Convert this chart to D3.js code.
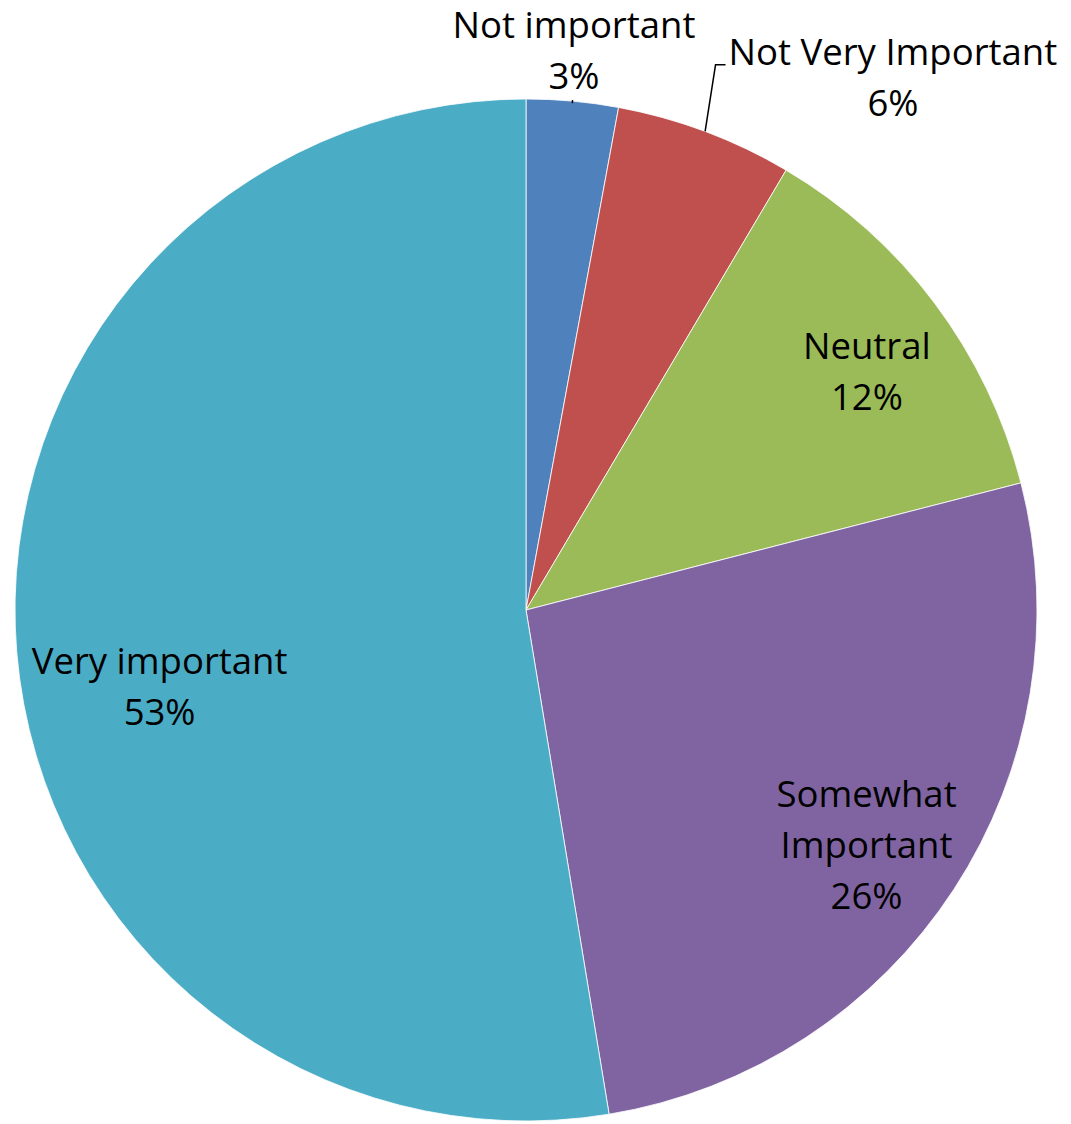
<!DOCTYPE html>
<html><head><meta charset="utf-8">
<script src="https://cdn.jsdelivr.net/npm/d3@7"></script>
<style>html,body{margin:0;padding:0;background:#fff;}</style>
</head><body>
<svg id="chart" width="1071" height="1124"></svg>
<script>
const categories = ["Not important", "Not Very Important", "Neutral", "Somewhat Important", "Very important"];
const values = [2.9, 5.6, 12.5, 26.4, 52.6];
const percentLabels = ["3%", "6%", "12%", "26%", "53%"];
const labelLines = [["Not important"], ["Not Very Important"], ["Neutral"], ["Somewhat", "Important"], ["Very important"]];
const colors = ["#4F81BD", "#C0504D", "#9BBB59", "#8064A2", "#4BACC6"];

const W = 1071, H = 1124;
const cx = 526, cy = 610, R = 511;
// label placement: angle offset (deg) from slice mid-angle and radius factor
const labelAngleOffset = [-0.2, 14.7, 3.4, 2.9, -9];
const labelRadiusFactor = [1.074, 1.245, 0.80, 0.824, 0.738];
const lineGap = 51;
const fontSize = 36.5;

const svg = d3.select("#chart");
const g = svg.append("g").attr("transform", `translate(${cx},${cy})`);

const pie = d3.pie().sort(null).value(d => d)(values);
const arc = d3.arc().innerRadius(0).outerRadius(R);

g.selectAll("path.slice").data(pie).join("path")
  .attr("class", "slice")
  .attr("d", arc)
  .attr("fill", (d, i) => colors[i])
  .attr("stroke", "#ffffff")
  .attr("stroke-width", 0.8);

const polar = (angleRad, r) => [r * Math.sin(angleRad), -r * Math.cos(angleRad)];

pie.forEach((d, i) => {
  const mid = (d.startAngle + d.endAngle) / 2;
  const a = mid + labelAngleOffset[i] * Math.PI / 180;
  const [lx, ly] = polar(a, R * labelRadiusFactor[i]);
  const lines = labelLines[i].concat([percentLabels[i]]);
  const n = lines.length;
  const t = g.append("text")
    .attr("text-anchor", "middle")
    .attr("font-family", "'Open Sans', sans-serif")
    .attr("font-size", fontSize)
    .attr("fill", "#000");
  lines.forEach((ln, k) => {
    t.append("tspan")
      .attr("x", lx)
      .attr("y", ly + (k - (n - 1) / 2) * lineGap)
      .text(ln);
  });
  // leader lines for outside labels
  if (labelRadiusFactor[i] > 1) {
    const [ax, ay] = polar(mid, R);
    if (i === 1) {
      const bbox = t.node().getBBox();
      const ey = ly - lineGap / 2;
      const ex = bbox.x - 13;
      g.append("path")
        .attr("d", `M${ax},${ay}L${ex},${ey}L${bbox.x - 3},${ey}`)
        .attr("fill", "none").attr("stroke", "#000").attr("stroke-width", 1.5);
    } else {
      const [bx, by] = polar(mid, R - 2);
      const [tx, ty] = polar(mid, R + 1);
      g.append("line")
        .attr("x1", bx).attr("y1", by)
        .attr("x2", tx).attr("y2", ty)
        .attr("stroke", "#000").attr("stroke-width", 1.5);
    }
  }
});
</script>
</body></html>
